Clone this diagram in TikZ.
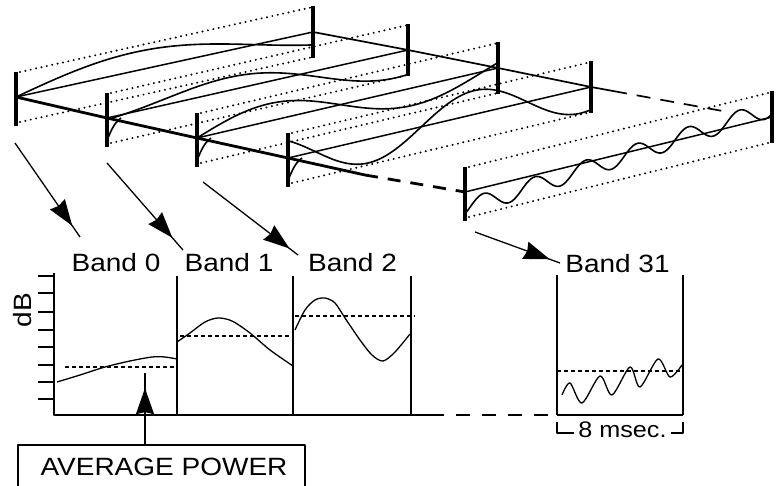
\documentclass[tikz,border=0pt]{standalone}
\usepackage{fontspec}
\setmainfont{Liberation Sans}[FakeStretch=1.12]
\usetikzlibrary{arrows.meta,decorations.markings}
\tikzset{
  barline/.style={line width=3.4pt},
  frontaxis/.style={line width=2.8pt},
  midline/.style={line width=1.5pt},
  dotline/.style={line width=2.2pt, dash pattern=on 0pt off 5.5pt, line cap=round},
  wave/.style={line width=1.6pt},
  chart/.style={line width=1.3pt},
  avgline/.style={line width=1.2pt, dash pattern=on 4pt off 3pt},
  lbl/.style={font=\fontsize{25}{28}\selectfont, inner sep=0pt},
  ptr/.style={line width=1.3pt, postaction=decorate,
    decoration={markings, mark=at position #1 with {\arrow{Stealth[length=26pt,width=18pt,inset=2pt]}}}}
}
\newcommand\bandstrip[5]{%
  \draw[dotline] (#1+4,#2-25) -- (#3,#4-25);
  \draw[dotline] (#1+4,#2+25) -- (#3,#4+25);
  \draw[midline] (#1,#2) -- (#3,#4);
  \draw[wave] plot[domain=0:1,samples=150,smooth] ({#1+(#3-#1)*\x},{#2+(#4-#2)*\x-25*(#5)});
  \draw[barline] (#1,#2-25) -- (#1,#2+29);
  \draw[barline] (#3,#4-26) -- (#3,#4+26);
}
\newcommand\frontcurl[2]{%
  \draw[wave] (#1+14,#2) .. controls (#1+7,#2+5) and (#1+4,#2+13) .. (#1+1,#2+20);
}
\begin{document}
\begin{tikzpicture}[x=1pt,y=-1pt,line join=round]
\useasboundingbox (0,0) rectangle (781,486);

% ---- 3D strips ----
\bandstrip{16}{97}{313}{32}{0.75*sin(deg(3.9*\x))}
\bandstrip{107}{118}{408}{50}{(0.2+0.85*\x)*sin(deg(3.1416*(\x-0.06)/0.58))}
\bandstrip{197}{138}{498}{68}{0.7*sin(deg(6.597*\x))}
\bandstrip{288}{158}{591}{87}{0.95*sin(deg(8.976*(\x-0.44)))}
\bandstrip{465}{192}{772}{117}{-0.65+1.0*\x+0.35*sin(deg(37.7*\x-0.69))}
\frontcurl{107}{118}
\frontcurl{197}{138}
\frontcurl{288}{158}

% front axis
\draw[frontaxis] (16,97) -- (107,118) -- (197,138) -- (288,158) -- (365,175);
\draw[frontaxis, dash pattern=on 13pt off 10pt] (365,175) -- (465,192);
% back axis
\draw[midline, line width=1.7pt] (313,32) -- (408,50) -- (498,68) -- (591,87) -- (613,91);
\draw[midline, line width=1.7pt, dash pattern=on 14pt off 10pt] (613,91) -- (728,112);

% ---- labels ----
\node[lbl, anchor=base] (b0) at (116,272) {Band 0};
\node[lbl, anchor=base] (b1) at (229,272) {Band 1};
\node[lbl, anchor=base] (b2) at (352.5,272) {Band 2};
\node[lbl, anchor=base] (b31) at (617.5,272.5) {Band 31};

% ---- pointer arrows ----
\coordinate (s0) at (15,143);  \coordinate (e0) at (80,237);
\coordinate (s1) at (107,163); \coordinate (e1) at (183,250);
\coordinate (s2) at (203,182); \coordinate (e2) at (298,255);
\coordinate (s31) at (475,232); \coordinate (e31) at (560,263);
\draw[ptr=0.88] (s0) -- (e0);
\draw[ptr=0.86] (s1) -- (e1);
\draw[ptr=0.91] (s2) -- (e2);
\draw[ptr=0.88] (s31) -- (e31);

% ---- charts ----
\draw[chart] (54,273) -- (54,415) -- (430,415);
\draw[chart, dash pattern=on 14pt off 12pt] (430,415) -- (557,415);
\draw[chart] (557,415) -- (683,415);
\foreach \yy in {276,293,312,330,347,365,382,399} \draw[line width=1.1pt] (38,\yy) -- (54,\yy);
\draw[chart] (177,276) -- (177,415);
\draw[chart] (293,276) -- (293,415);
\draw[chart] (411,276) -- (411,415);
\draw[chart] (557,275) -- (557,415);
\draw[chart] (683,275) -- (683,415);
\node[lbl, rotate=90] (db) at (22.5,310) {dB};

% average lines
\draw[avgline] (65,367) -- (177,367);
\draw[avgline] (180,336) -- (293,336);
\draw[avgline] (295,316) -- (415,316);
\draw[avgline] (557,371) -- (683,371);

% curves
\draw[chart] plot[smooth] coordinates {(57,382) (80,375) (105,367) (130,361) (152,357) (165,357) (177,359)};
\draw[chart] plot[smooth] coordinates {(177,342) (190,333) (205,322) (218,318) (232,321) (250,333) (270,350) (293,366)};
\draw[chart] plot[smooth] coordinates {(295,330) (305,310) (315,300) (325,298) (335,303) (345,318) (360,340) (372,355) (383,361) (395,352) (410,334)};
\draw[chart] plot[smooth] coordinates {(562,395) (570,383) (582,403) (600,376) (612,395) (630,367) (640,387) (658,359) (670,377) (682,365)};

% 8 msec bracket
\node[font=\fontsize{22.5}{26}\selectfont, inner sep=0pt, anchor=base] (ms) at (622.5,437) {8 msec.};
\draw[line width=1.2pt] (557,422) -- (557,433) -- (574,433);
\draw[line width=1.2pt] (671,433) -- (683,433) -- (683,422);

% average power box
\node[lbl, anchor=base] (avgp) at (164,475) {AVERAGE POWER};
\draw[chart] (18,487) -- (18,445) -- (305,445) -- (305,487);
\coordinate (ap) at (145,445); \coordinate (apt) at (145,373);
\draw[ptr=0.79] (ap) -- (apt);
\end{tikzpicture}
\end{document}
